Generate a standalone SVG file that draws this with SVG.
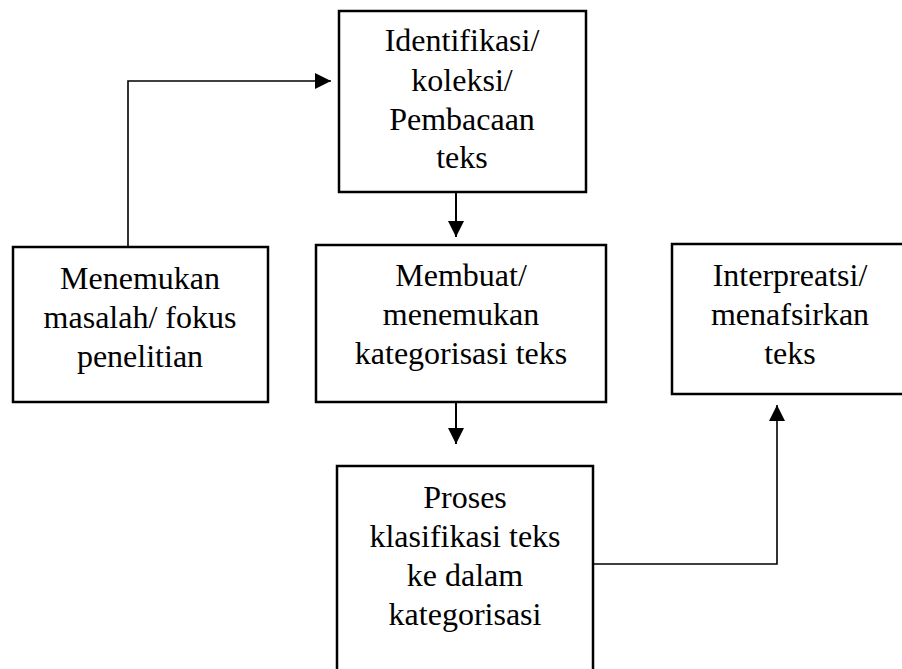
<svg xmlns="http://www.w3.org/2000/svg" width="902" height="669" viewBox="0 0 902 669">
<style>
.box{fill:#fff;stroke:#000;stroke-width:2.5}
.t{font-family:'Liberation Serif','Tinos','Times New Roman','DejaVu Serif',serif;font-size:32px;fill:#000;text-anchor:middle}
.c{fill:none;stroke:#000;stroke-width:2}
.thin{fill:none;stroke:#000;stroke-width:1.6}
</style>
<defs>
<marker id="ah" markerWidth="16" markerHeight="16" refX="16" refY="8" orient="auto" markerUnits="userSpaceOnUse" viewBox="0 0 16 16">
<path d="M0,0 L16,8 L0,16 Z" fill="#000"/>
</marker>
</defs>
<rect width="902" height="669" fill="#fff"/>
<g id="connectors">
<path class="thin" d="M128,247 V81 H331" marker-end="url(#ah)"/>
<path class="c" d="M456,192 V237" marker-end="url(#ah)"/>
<path class="c" d="M456,402 V444" marker-end="url(#ah)"/>
<path class="thin" d="M593,564 H777 V405" marker-end="url(#ah)"/>
</g>
<g id="n1">
<rect class="box" x="339" y="11" width="247" height="181"/>
<text class="t" x="462" y="51">Identifikasi/</text>
<text class="t" x="462" y="91">koleksi/</text>
<text class="t" x="462" y="130">Pembacaan</text>
<text class="t" x="462" y="168">teks</text>
</g>
<g id="n2">
<rect class="box" x="13" y="247" width="255" height="155"/>
<text class="t" x="140" y="289">Menemukan</text>
<text class="t" x="140" y="328">masalah/ fokus</text>
<text class="t" x="140" y="367">penelitian</text>
</g>
<g id="n3">
<rect class="box" x="316" y="245" width="290" height="157"/>
<text class="t" x="461" y="286">Membuat/</text>
<text class="t" x="461" y="325">menemukan</text>
<text class="t" x="461" y="364">kategorisasi teks</text>
</g>
<g id="n4">
<rect class="box" x="672" y="244" width="240" height="150"/>
<text class="t" x="790" y="286">Interpreatsi/</text>
<text class="t" x="790" y="325">menafsirkan</text>
<text class="t" x="790" y="364">teks</text>
</g>
<g id="n5">
<rect class="box" x="337" y="466" width="256" height="220"/>
<text class="t" x="465" y="508">Proses</text>
<text class="t" x="465" y="547">klasifikasi teks</text>
<text class="t" x="465" y="586">ke dalam</text>
<text class="t" x="465" y="625">kategorisasi</text>
</g>
</svg>
